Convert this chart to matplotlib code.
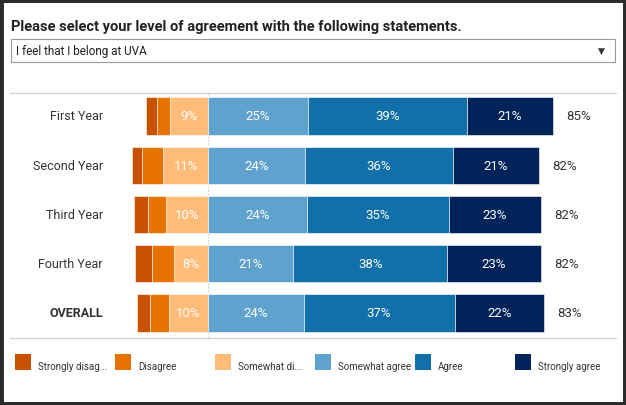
import matplotlib
matplotlib.use("Agg")
import matplotlib.pyplot as plt
from matplotlib.patches import Rectangle
import numpy as np

plt.rcParams['font.family'] = ['Roboto', 'DejaVu Sans']

# data (percent of respondents)
groups = ['First Year', 'Second Year', 'Third Year', 'Fourth Year', 'OVERALL']
strongly_disagree = [2.6, 2.5, 3.6, 4.2, 3.3]
disagree = [3.2, 5.2, 4.4, 5.5, 4.6]
somewhat_disagree = [9.4, 11.0, 10.3, 8.4, 9.7]
somewhat_agree = [24.7, 24.0, 24.4, 21.1, 23.6]
agree = [39.2, 36.4, 35.1, 37.9, 37.3]
strongly_agree = [21.4, 21.4, 22.8, 23.3, 22.1]

legend_labels = ['Strongly disag...', 'Disagree', 'Somewhat di...',
                 'Somewhat agree', 'Agree', 'Strongly agree']
colors = ['#C85200', '#E67300', '#FFBC79', '#5FA2CE', '#1170AA', '#00235A']

W, H = 626, 406
fig = plt.figure(figsize=(W / 100, H / 100), dpi=100, facecolor='white')

def fx(px):
    return px / W

def fy(py):
    return 1 - py / H

# chart area in pixels: x 10..616, y 94..339
ax = fig.add_axes([fx(10), fy(339), (616 - 10) / W, (339 - 94) / H])
ax.set_xlim((10 - 208) / 4.05, (616 - 208) / 4.05)
ax.set_ylim(4.508, -0.467)

y = np.arange(len(groups))
bh = 0.76

# negative side, stacked outward from zero
neg = [somewhat_disagree, disagree, strongly_disagree]
neg_cols = [colors[2], colors[1], colors[0]]
left = np.zeros(len(groups))
for vals, c in zip(neg, neg_cols):
    vals = np.array(vals)
    ax.barh(y, -vals, left=-left, height=bh, color=c,
            edgecolor='white', linewidth=0.4)
    if c == colors[2]:
        for yi, v, l in zip(y, vals, left):
            ax.text(-(l + v / 2), yi, f'{round(v):.0f}%', ha='center',
                    va='center', color='white', fontsize=9.5)
    left = left + vals

# positive side
pos = [somewhat_agree, agree, strongly_agree]
pos_cols = colors[3:]
left = np.zeros(len(groups))
for vals, c in zip(pos, pos_cols):
    vals = np.array(vals)
    ax.barh(y, vals, left=left, height=bh, color=c, edgecolor='white',
            linewidth=0.4)
    for yi, v, l in zip(y, vals, left):
        ax.text(l + v / 2, yi, f'{round(v):.0f}%', ha='center', va='center',
                color='white', fontsize=9.5)
    left = left + vals

# total agree labels
for yi, tot in zip(y, left):
    ax.annotate(f'{round(tot):.0f}%', (tot, yi), xytext=(9.5, 0),
                textcoords='offset points', ha='left', va='center',
                color='#333333', fontsize=9.5)

# group labels
for yi, g in zip(y, groups):
    ax.text((103 - 10) / 606, yi, g, transform=ax.get_yaxis_transform(),
            ha='right', va='center', color='#333333', fontsize=9,
            fontweight='bold' if g == 'OVERALL' else 'normal')

ax.axvline(0, color='#cccccc', ls=(0, (1.5, 1.5)), lw=0.8, zorder=0)
ax.set_xticks([])
ax.set_yticks([])
for s in ['left', 'right']:
    ax.spines[s].set_visible(False)
for s in ['top', 'bottom']:
    ax.spines[s].set_color('#d4d4d4')
    ax.spines[s].set_linewidth(1)

# title and dropdown
fig.text(fx(11), fy(27), 'Please select your level of agreement with the following statements.',
         ha='left', va='center', fontsize=10.5, fontweight='bold', color='#222222')
fig.patches.append(Rectangle((fx(11), fy(62.5)), fx(604), (62.5 - 39.5) / H,
                             transform=fig.transFigure, facecolor='white',
                             edgecolor='#9a9a9a', lw=0.8))
fig.text(fx(16), fy(51), 'I feel that I belong at UVA', ha='left', va='center',
         fontsize=8.5, color='#222222')
fig.text(fx(601), fy(51), '▼', ha='center', va='center', fontsize=6.5,
         color='#333333', family='DejaVu Sans')

# legend
for i, (lab, c) in enumerate(zip(legend_labels, colors)):
    x0 = 15 + 100 * i
    fig.patches.append(Rectangle((fx(x0), fy(371)), fx(16), 16 / H,
                                 transform=fig.transFigure, facecolor=c,
                                 edgecolor='none'))
    fig.text(fx(x0 + 23), fy(367), lab, ha='left', va='center', fontsize=7,
             color='#333333')

# outer dark frame
fig.patches.append(Rectangle((0, 0), 1, 1, transform=fig.transFigure,
                             fill=False, edgecolor='#2b2b2b', lw=5))

fig.savefig('out.png', dpi=100)
